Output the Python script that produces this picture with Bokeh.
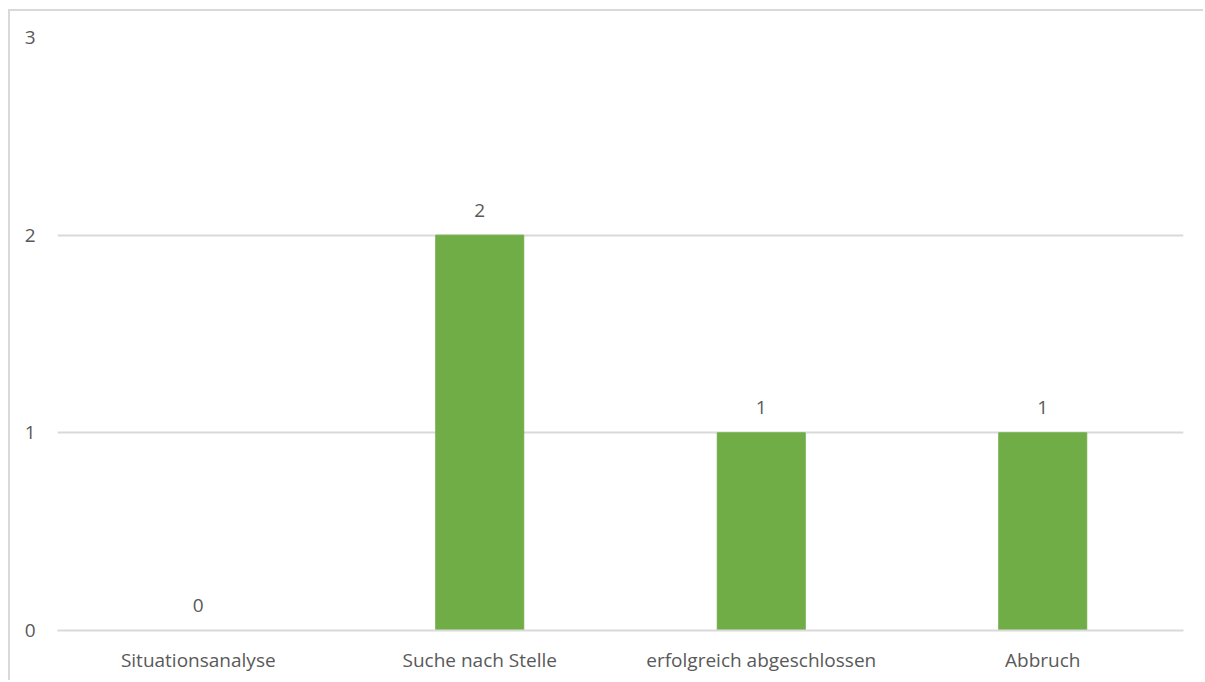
from bokeh.plotting import figure
from bokeh.models import ColumnDataSource, Range1d, FixedTicker
from bokeh.core.properties import value
from bokeh.embed import file_html
from bokeh.resources import INLINE

# Phasen und Anzahl der Fälle je Phase
categories = ["Situationsanalyse", "Suche nach Stelle", "erfolgreich abgeschlossen", "Abbruch"]
counts = [0, 2, 1, 1]
y_ticks = [0, 1, 2, 3]

FONT = "Open Sans"
TEXT_COLOR = "#595959"
GRID_COLOR = "#d9d9d9"
BAR_COLOR = "#70ad47"

source = ColumnDataSource(dict(
    cat=categories,
    count=counts,
    label=[str(c) for c in counts],
))

p = figure(
    x_range=categories,
    y_range=Range1d(0, 3),
    width=1195,
    height=671,
    output_backend="svg",
    toolbar_location=None,
    min_border_left=47,
    min_border_right=22,
    min_border_top=26,
    min_border_bottom=52,
    margin=(9, 0, 0, 8),
    styles={
        "border-top": "2px solid #d9d9d9",
        "border-left": "2px solid #d9d9d9",
    },
)

p.vbar(x="cat", top="count", width=0.3126, color=BAR_COLOR, source=source)

p.text(
    x="cat", y="count", text="label", source=source,
    text_font=value(FONT), text_font_size="19px", text_color=TEXT_COLOR,
    text_align="center", text_baseline="alphabetic", y_offset=-25,
)

p.outline_line_color = None
p.background_fill_color = "white"
p.border_fill_color = "white"

p.xgrid.grid_line_color = None
p.ygrid.grid_line_color = GRID_COLOR
p.ygrid.grid_line_width = 2
p.ygrid.ticker = FixedTicker(ticks=y_ticks)

p.yaxis.ticker = FixedTicker(ticks=y_ticks)
p.yaxis.axis_line_color = None
p.yaxis.major_tick_line_color = None
p.yaxis.minor_tick_line_color = None
p.yaxis.major_label_standoff = 16
p.yaxis.major_label_text_font = FONT
p.yaxis.major_label_text_font_size = "19px"
p.yaxis.major_label_text_color = TEXT_COLOR

p.xaxis.axis_line_color = GRID_COLOR
p.xaxis.axis_line_width = 2
p.xaxis.major_tick_line_color = None
p.xaxis.minor_tick_line_color = None
p.xaxis.major_label_standoff = 10
p.xaxis.major_label_text_font = FONT
p.xaxis.major_label_text_font_size = "19px"
p.xaxis.major_label_text_color = TEXT_COLOR

open("out.html", "w").write(file_html(p, INLINE))
